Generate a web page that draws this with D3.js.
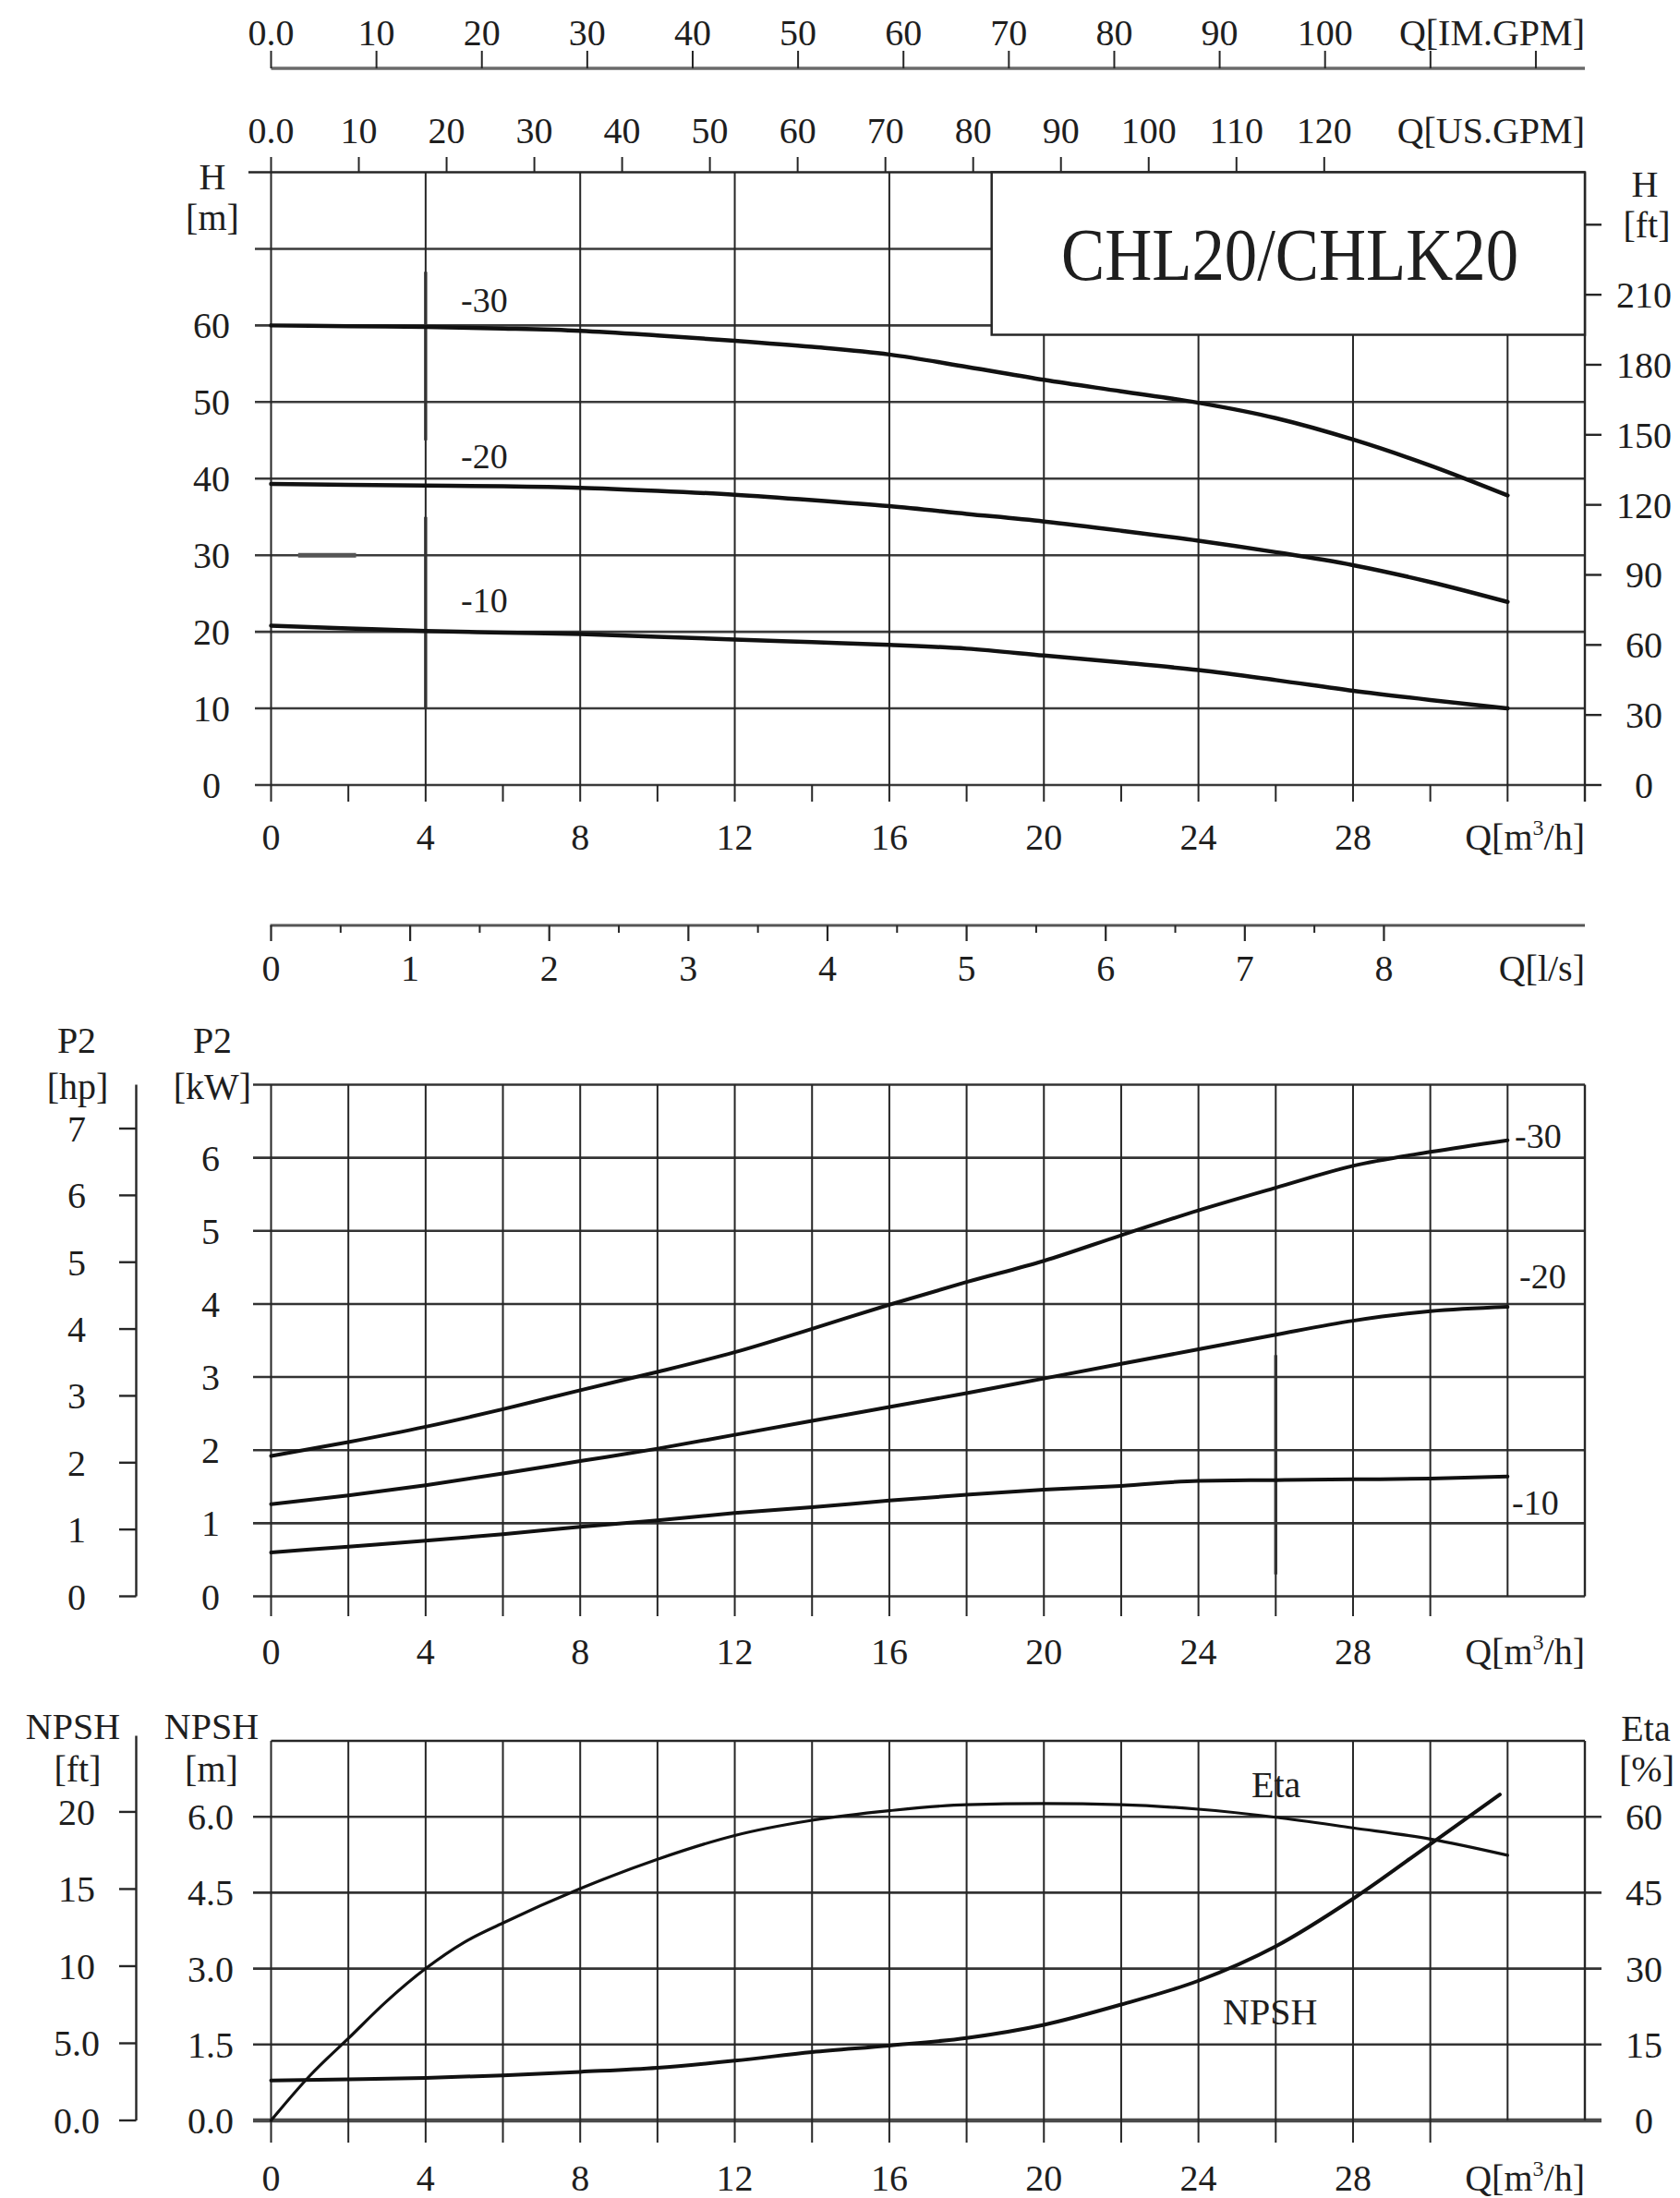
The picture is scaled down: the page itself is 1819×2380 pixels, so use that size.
<!DOCTYPE html>
<html><head><meta charset="utf-8">
<script src="https://cdn.jsdelivr.net/npm/d3@7"></script>
<style>
body{margin:0;background:#fff}
svg text{font-family:"Liberation Serif","Times New Roman",serif;fill:#1e1e1e}
</style>
</head><body>
<svg id="c" width="1819" height="2380"></svg>
<script>
// ---------------- DATA ----------------
const title = "CHL20/CHLK20";
const curveNames = ["-30", "-20", "-10"];
const flowQ = [0,2,4,6,8,10,12,14,16,18,20,22,24,26,28,30,32];
// Head [m]
const head30 = [60.0,59.9,59.8,59.6,59.3,58.7,58.0,57.2,56.2,54.6,52.9,51.4,49.9,47.9,45.1,41.7,37.8];
const head20 = [39.3,39.2,39.1,39.0,38.8,38.4,37.9,37.2,36.4,35.4,34.4,33.2,31.9,30.4,28.7,26.5,23.9];
const head10 = [20.8,20.45,20.1,19.9,19.7,19.35,19.0,18.65,18.3,17.8,16.9,16.0,15.0,13.7,12.3,11.1,10.0];
// Power P2 [kW]
const power30 = [1.92,2.11,2.32,2.56,2.82,3.07,3.34,3.66,3.99,4.30,4.59,4.94,5.28,5.59,5.89,6.08,6.24];
const power20 = [1.26,1.38,1.52,1.68,1.85,2.02,2.21,2.40,2.59,2.78,2.98,3.18,3.38,3.58,3.77,3.90,3.96];
const power10 = [0.60,0.68,0.76,0.85,0.95,1.04,1.14,1.22,1.31,1.39,1.46,1.51,1.58,1.59,1.60,1.61,1.64];
// Efficiency [%]
const etaQ   = [0,1,2,3,4,5,6,8,10,12,14,16,18,20,22,24,26,28,30,32];
const etaPct = [0,8.8,16.2,23.6,30.0,35.2,39.0,45.8,51.6,56.3,59.3,61.2,62.4,62.6,62.4,61.5,59.9,57.8,55.6,52.4];
// NPSH [m]
const npshQ = [0,2,4,6,8,10,12,14,16,18,20,22,24,26,28,30,31.8];
const npshM = [0.79,0.81,0.84,0.89,0.96,1.04,1.18,1.35,1.48,1.63,1.89,2.29,2.76,3.44,4.38,5.46,6.44];
// Tick values / labels
const qLabelTicks = [0,4,8,12,16,20,24,28];
const imGpmTicks = [0,10,20,30,40,50,60,70,80,90,100,110,120];
const imGpmLabels = ["0.0","10","20","30","40","50","60","70","80","90","100"];
const usGpmTicks = [0,10,20,30,40,50,60,70,80,90,100,110,120];
const usGpmLabels = ["0.0","10","20","30","40","50","60","70","80","90","100","110","120"];
const lsTicks = [0,1,2,3,4,5,6,7,8];
const headGridM = [0,10,20,30,40,50,60,70];
const headLabelsM = [0,10,20,30,40,50,60];
const headTicksFt = [0,30,60,90,120,150,180,210];
const powerTicksKw = [0,1,2,3,4,5,6];
const powerTicksHp = [0,1,2,3,4,5,6,7];
const npshTicksM = [0,1.5,3.0,4.5,6.0];
const npshTicksFt = [0,5,10,15,20];
const npshFtLabels = ["0.0","5.0","10","15","20"];
const etaTicks = [0,15,30,45,60];

// ---------------- SCALES ----------------
const svg = d3.select("#c");
const X0 = 293.5, X1 = 1716;
const x = d3.scaleLinear().domain([0,34]).range([X0,X1]);
const xIm = d3.scaleLinear().domain([0,34/0.2727654]).range([X0,X1]);
const xUs = d3.scaleLinear().domain([0,34/0.2271247]).range([X0,X1]);
const xLs = d3.scaleLinear().domain([0,34/3.6]).range([X0,X1]);
const yH = d3.scaleLinear().domain([0,80]).range([850,186.5]);
const yHft = d3.scaleLinear().domain([0,80/0.3048]).range([850,186.5]);
const yP = d3.scaleLinear().domain([0,7]).range([1728.5,1174.5]);
const yHp = d3.scaleLinear().domain([0,7]).range([1728.5,1222]);
const yN = d3.scaleLinear().domain([0,7.5]).range([2296,1885]);
const yNft = d3.scaleLinear().domain([0,7.5/0.3048]).range([2296,1885]);
const yEta = d3.scaleLinear().domain([0,75]).range([2296,1885]);

const GRID = "#262626", CURVE = "#111";

function ln(g,x1,y1,x2,y2,w=2,c=GRID){
  g.append("line").attr("x1",x1).attr("y1",y1).attr("x2",x2).attr("y2",y2)
   .attr("stroke",c).attr("stroke-width",w);
}
function tx(g,xx,yy,s,opt={}){
  const t = g.append("text").attr("x",xx).attr("y",yy)
    .attr("font-size",opt.size||40).attr("text-anchor",opt.anchor||"middle").text(s);
  if(opt.len) t.attr("textLength",opt.len).attr("lengthAdjust","spacingAndGlyphs");
  return t;
}
function qUnit(g,xx,yy){
  const t = g.append("text").attr("x",xx).attr("y",yy).attr("font-size",40).attr("text-anchor","end");
  t.append("tspan").text("Q[m");
  t.append("tspan").attr("font-size",24).attr("dy",-16).text("3");
  t.append("tspan").attr("dy",16).text("/h]");
}
function curve(g,xs,ys,ysc,w){
  const pts = xs.map((q,i)=>[x(q),ysc(ys[i])]);
  g.append("path").attr("d",d3.line().curve(d3.curveMonotoneX)(pts))
   .attr("fill","none").attr("stroke",CURVE).attr("stroke-width",w).attr("stroke-linecap","round");
}

// ---------------- TOP FLOW AXES ----------------
const gTop = svg.append("g");
ln(gTop,X0,74,X1,74,3.5,"#6a6a6a");
imGpmTicks.forEach(v=>ln(gTop,xIm(v),55,xIm(v),74,2));
imGpmLabels.forEach(s=>tx(gTop,xIm(+s),49,s,{size:40}));
tx(gTop,X1,49,"Q[IM.GPM]",{anchor:"end",size:40});
usGpmTicks.forEach(v=>ln(gTop,xUs(v),170,xUs(v),187,2));
usGpmLabels.forEach(s=>tx(gTop,xUs(+s),155,s,{size:40}));
tx(gTop,X1,155,"Q[US.GPM]",{anchor:"end",size:40});

// ---------------- CHART 1 : HEAD ----------------
const c1 = svg.append("g");
headGridM.forEach(v=>ln(c1,276,yH(v),X1,yH(v),2.6,"#3a3a3a"));
ln(c1,269,yH(80),X1,yH(80),2.6);
flowQ.filter(q=>q%4===0).forEach(q=>ln(c1,x(q),yH(80),x(q),868,2));
ln(c1,X1,yH(80),X1,868,2.4);
flowQ.filter(q=>q%4===2).forEach(q=>ln(c1,x(q),yH(0),x(q),868,2));
// scan marks visible in the original
ln(c1,x(4),yH(67),x(4),yH(45),3.4,"#333");
ln(c1,x(4),yH(35),x(4),yH(10),3.4,"#333");
ln(c1,x(0.7),yH(30),x(2.2),yH(30),5,"#555");
// title box
c1.append("rect").attr("x",1073.7).attr("y",yH(80)).attr("width",X1-1073.7).attr("height",176)
  .attr("fill","#fff").attr("stroke",GRID).attr("stroke-width",2.5);
tx(c1,1396.5,303,title,{size:80,len:495});
headLabelsM.forEach(v=>tx(c1,229,yH(v)+14,String(v)));
tx(c1,230,205,"H"); tx(c1,230,249,"[m]");
[...headTicksFt,240].forEach(v=>ln(c1,X1,yHft(v),1734,yHft(v),2.4));
headTicksFt.forEach(v=>tx(c1,1780,yHft(v)+14,String(v)));
tx(c1,1781,213,"H"); tx(c1,1783,257,"[ft]");
qLabelTicks.forEach(v=>tx(c1,x(v),920,String(v)));
qUnit(c1,X1,920);
curve(c1,flowQ,head30,yH,4.5);
curve(c1,flowQ,head20,yH,4.5);
curve(c1,flowQ,head10,yH,4.5);
tx(c1,499,338,curveNames[0],{anchor:"start",size:38});
tx(c1,499,507,curveNames[1],{anchor:"start",size:38});
tx(c1,499,663,curveNames[2],{anchor:"start",size:38});

// l/s axis
const gLs = svg.append("g");
ln(gLs,292.5,1002,X1,1002,3,"#555");
lsTicks.forEach(v=>ln(gLs,xLs(v),1002,xLs(v),1019,2.2));
lsTicks.slice(0,-1).forEach(v=>ln(gLs,xLs(v+0.5),1002,xLs(v+0.5),1010,2));
lsTicks.forEach(v=>tx(gLs,xLs(v),1062,String(v)));
tx(gLs,X1,1062,"Q[l/s]",{anchor:"end"});

// ---------------- CHART 2 : POWER ----------------
const c2 = svg.append("g");
[...powerTicksKw,7].forEach(v=>ln(c2,274,yP(v),X1,yP(v),2.6,"#333"));
flowQ.forEach(q=>ln(c2,x(q),yP(7),x(q),q<=30?1750:yP(0),2));
ln(c2,X1,yP(7),X1,yP(0),2.4);
ln(c2,x(26),yP(3.3),x(26),yP(0.3),3.4,"#333");
powerTicksKw.forEach(v=>tx(c2,228,yP(v)+14,String(v)));
ln(c2,147.5,yP(7),147.5,yP(0),2.4);
powerTicksHp.forEach(v=>{ln(c2,129,yHp(v),147.5,yHp(v),2.4); tx(c2,83,yHp(v)+14,String(v));});
tx(c2,83,1140,"P2"); tx(c2,84,1190,"[hp]");
tx(c2,230,1140,"P2"); tx(c2,230,1190,"[kW]");
qLabelTicks.forEach(v=>tx(c2,x(v),1802,String(v)));
qUnit(c2,X1,1802);
curve(c2,flowQ,power30,yP,4);
curve(c2,flowQ,power20,yP,4);
curve(c2,flowQ,power10,yP,4);
tx(c2,1640,1243,curveNames[0],{anchor:"start",size:38});
tx(c2,1645,1395,curveNames[1],{anchor:"start",size:38});
tx(c2,1637,1640,curveNames[2],{anchor:"start",size:38});

// ---------------- CHART 3 : NPSH / ETA ----------------
const c3 = svg.append("g");
npshTicksM.forEach(v=>ln(c3,274,yN(v),1734,yN(v),v===0?4.5:2.6,v===0?"#4a4a4a":"#333"));
ln(c3,X0,yN(7.5),X1,yN(7.5),2.6);
flowQ.forEach(q=>ln(c3,x(q),yN(7.5),x(q),q<=30?2320:yN(0),2));
ln(c3,X1,yN(7.5),X1,yN(0),2.4);
npshTicksM.forEach(v=>tx(c3,228,yN(v)+14,d3.format(".1f")(v)));
ln(c3,147.5,1879.5,147.5,yNft(0),2.4);
npshTicksFt.forEach((v,i)=>{ln(c3,129,yNft(v),147.5,yNft(v),2.4); tx(c3,83,yNft(v)+14,npshFtLabels[i]);});
etaTicks.forEach(v=>tx(c3,1780,yEta(v)+14,String(v)));
tx(c3,79,1883,"NPSH"); tx(c3,84,1929,"[ft]");
tx(c3,229,1883,"NPSH"); tx(c3,229,1929,"[m]");
tx(c3,1782,1885,"Eta"); tx(c3,1783,1929,"[%]");
qLabelTicks.forEach(v=>tx(c3,x(v),2372,String(v)));
qUnit(c3,X1,2372);
curve(c3,etaQ,etaPct,yEta,3.2);
curve(c3,npshQ,npshM,yN,4);
tx(c3,1355,1946,"Eta",{anchor:"start",size:40});
tx(c3,1324,2192,"NPSH",{anchor:"start",size:40});
</script>
</body></html>
